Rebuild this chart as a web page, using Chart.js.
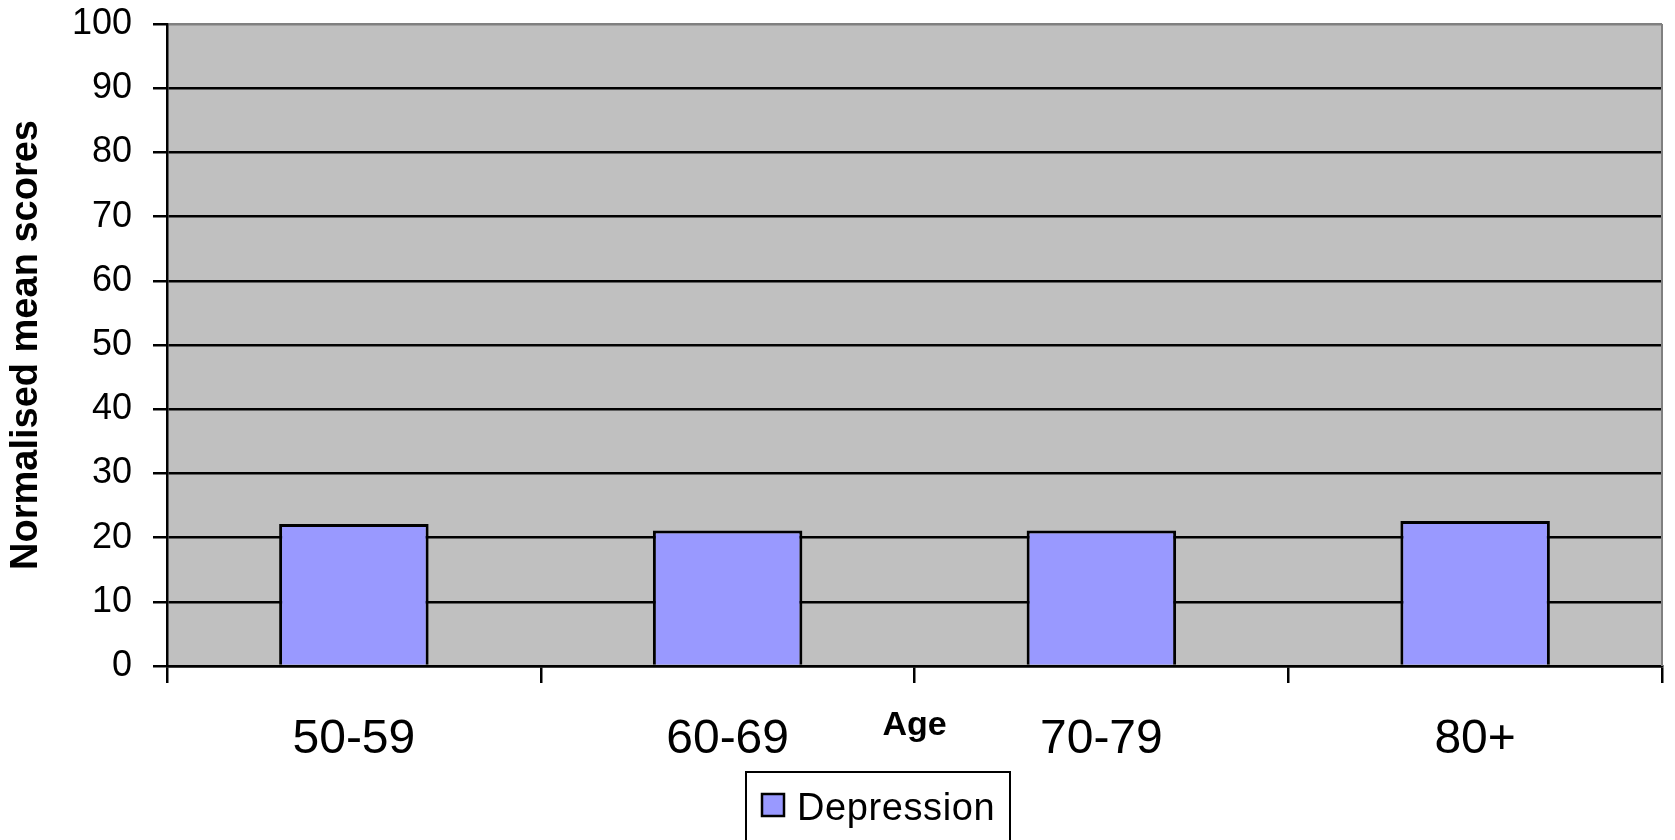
<!DOCTYPE html>
<html>
<head>
<meta charset="utf-8">
<script src="https://cdn.jsdelivr.net/npm/chart.js@4/dist/chart.umd.min.js"></script>
<style>
html,body{margin:0;padding:0;background:#fff;}
#caja{width:1675px;height:840px;}
</style>
</head>
<body>
<div id="caja"><canvas id="myChart_dep" width="1675" height="840"></canvas></div>
<script>
// datos
var edades = ['50-59', '60-69', '70-79', '80+'];
var depresion = [22.1, 21.1, 21.1, 22.6];
var marcas_y = [0, 10, 20, 30, 40, 50, 60, 70, 80, 90, 100];

var fuente = 'Liberation Sans, Arial, sans-serif';

//// fondo gris del area del grafico
var fondo = {
	id: 'fondo',
	beforeDraw: function(chart){
		var a = chart.chartArea;
		var ctx = chart.ctx;
		ctx.save();
		ctx.fillStyle = '#c0c0c0';
		ctx.fillRect(a.left, a.top, a.right - a.left, a.bottom - a.top);
		ctx.restore();
	},
	beforeDatasetsDraw: function(chart){
		var a = chart.chartArea;
		var ctx = chart.ctx;
		ctx.save();
		ctx.strokeStyle = '#808080';
		ctx.lineWidth = 2;
		ctx.beginPath();
		ctx.moveTo(a.right, a.top);
		ctx.lineTo(a.right, a.bottom);
		ctx.stroke();
		ctx.restore();
	}
};

//// leyenda con marco
var leyenda = {
	id: 'leyenda',
	afterDraw: function(chart){
		var ctx = chart.ctx;
		var ds = chart.data.datasets[0];
		ctx.save();
		ctx.lineWidth = 2;
		ctx.strokeStyle = '#000';
		ctx.strokeRect(746, 772, 264, 120);
		ctx.fillStyle = ds.backgroundColor;
		ctx.fillRect(762, 794, 22, 22);
		ctx.lineWidth = 2.5;
		ctx.strokeRect(762, 794, 22, 22);
		ctx.fillStyle = '#000';
		ctx.font = '38px ' + fuente;
		ctx.letterSpacing = '0.6px';
		ctx.textBaseline = 'alphabetic';
		ctx.fillText(ds.label, 797, 820);
		ctx.restore();
	}
};

var ctx_dep = document.getElementById('myChart_dep').getContext('2d');

var data_dep = {
	labels: edades,
	datasets: [{
		label: 'Depression',
		data: depresion,
		backgroundColor: '#9999ff',
		borderColor: '#000',
		borderWidth: 3,
		categoryPercentage: 1,
		barPercentage: 0.4
	}]
};

var myChart = new Chart(ctx_dep, {
	type: 'bar',
	data: data_dep,
	plugins: [fondo, leyenda],
	options: {
		responsive: false,
		animation: false,
		devicePixelRatio: 1,
		layout: { padding: { top: 24, right: 13, left: 0, bottom: 0 } },
		plugins: {
			legend: { display: false },
			tooltip: { enabled: false }
		},
		scales: {
			x: {
				afterFit: function(s){ s.height = 174; s.paddingTop = 0; s.paddingBottom = 0; },
				ticks: { font: { family: fuente, size: 48 }, color: '#000', padding: 28, maxRotation: 0, autoSkip: false },
				grid: { drawOnChartArea: false, offset: true, tickLength: 17, color: '#000', lineWidth: 2.5 },
				border: { color: '#000', width: 2.5 },
				title: { display: true, text: 'Age', color: '#000', font: { family: fuente, size: 34, weight: 'bold' }, padding: { top: 0, bottom: 94 } }
			},
			y: {
				min: 0,
				max: 100,
				afterBuildTicks: function(s){ s.ticks = marcas_y.map(function(v){ return { value: v }; }); },
				afterFit: function(s){ s.width = 167; s.paddingTop = 0; s.paddingBottom = 0; },
				ticks: { font: { family: fuente, size: 36 }, color: '#000', padding: 21 },
				grid: {
					color: function(c){ return (c.tick && c.tick.value === 100) ? '#808080' : '#000'; },
					tickColor: '#000',
					lineWidth: 2.5,
					tickLength: 14
				},
				border: { color: '#000', width: 2.5 },
				title: { display: true, text: 'Normalised mean scores', color: '#000', font: { family: fuente, size: 38, weight: 'bold' }, padding: { top: 4, bottom: 0 } }
			}
		}
	}
});
</script>
</body>
</html>
